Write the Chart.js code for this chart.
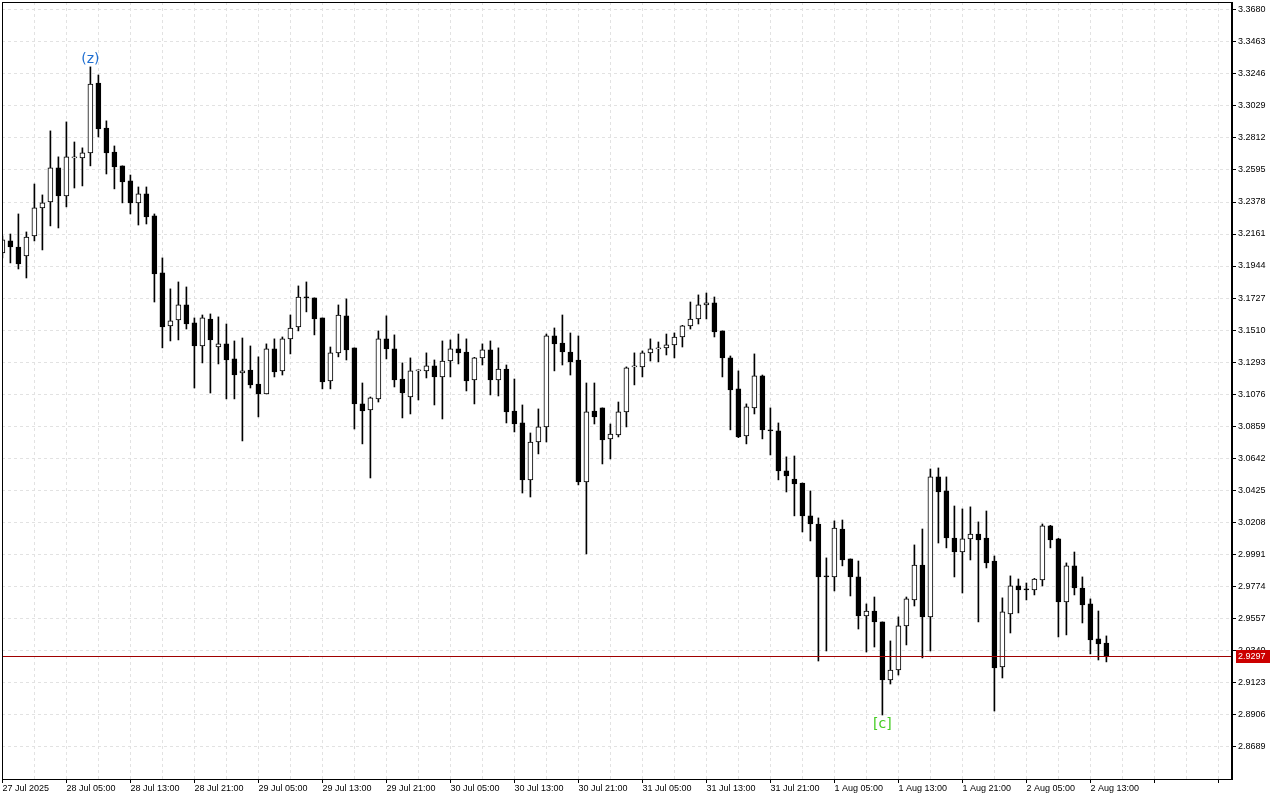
<!DOCTYPE html>
<html>
<head>
<meta charset="utf-8">
<script src="https://cdn.jsdelivr.net/npm/chart.js@4.4.1/dist/chart.umd.min.js"></script>
<style>
  html, body { margin: 0; padding: 0; background: #fff; }
  #wrap { width: 1280px; height: 800px; }
</style>
</head>
<body>
<div id="wrap"><canvas id="priceChart" width="1280" height="800"></canvas></div>
<script>
// hourly candles, first one is 27 Jul 2025 21:00
const opens = [
  3.2033, 3.2114, 3.2073, 3.2012, 3.2148, 3.2338, 3.2378, 3.2609, 3.2419, 3.2677,
  3.2677, 3.2711, 3.3185, 3.2880, 3.2717, 3.2623, 3.2521, 3.2372, 3.2433, 3.2284,
  3.1897, 3.1538, 3.1578, 3.1680, 3.1558, 3.1402, 3.1585, 3.1395, 3.1416, 3.1314,
  3.1219, 3.1239, 3.1144, 3.1077, 3.1382, 3.1233, 3.1450, 3.1531, 3.1734, 3.1728,
  3.1592, 3.1165, 3.1355, 3.1606, 3.1389, 3.1009, 3.0968, 3.1043, 3.1450, 3.1382,
  3.1178, 3.1056, 3.1233, 3.1233, 3.1267, 3.1192, 3.1300, 3.1382, 3.1361, 3.1172,
  3.1321, 3.1375, 3.1172, 3.1246, 3.0961, 3.0880, 3.0494, 3.0751, 3.0853, 3.1470,
  3.1422, 3.1361, 3.1307, 3.0480, 3.0961, 3.0982, 3.0772, 3.0799, 3.0955, 3.1260,
  3.1260, 3.1355, 3.1382, 3.1389, 3.1409, 3.1463, 3.1538, 3.1585, 3.1680, 3.1694,
  3.1504, 3.1321, 3.1111, 3.0792, 3.0982, 3.1199, 3.0833, 3.0826, 3.0555, 3.0500,
  3.0473, 3.0250, 3.0195, 2.9843, 2.9836, 3.0161, 2.9958, 2.9836, 2.9572, 2.9605,
  2.9531, 2.9138, 2.9205, 2.9504, 2.9680, 2.9917, 2.9565, 3.0514, 3.0419, 3.0100,
  3.0005, 3.0094, 3.0127, 3.0100, 2.9944, 2.9226, 2.9585, 2.9775, 2.9755, 2.9748,
  2.9816, 3.0182, 3.0094, 2.9666, 2.9911, 2.9761, 2.9653, 2.9416, 2.9388
];
const highs = [
  3.2148, 3.2161, 3.2297, 3.2175, 3.2500, 3.2426, 3.2860, 3.2684, 3.2921, 3.2785,
  3.2745, 3.3294, 3.3239, 3.2928, 3.2758, 3.2623, 3.2561, 3.2480, 3.2480, 3.2297,
  3.1999, 3.1789, 3.1836, 3.1802, 3.1592, 3.1612, 3.1619, 3.1599, 3.1551, 3.1436,
  3.1456, 3.1402, 3.1328, 3.1416, 3.1450, 3.1463, 3.1612, 3.1809, 3.1836, 3.1728,
  3.1592, 3.1395, 3.1680, 3.1721, 3.1389, 3.1151, 3.1056, 3.1504, 3.1606, 3.1477,
  3.1287, 3.1321, 3.1240, 3.1355, 3.1307, 3.1436, 3.1443, 3.1483, 3.1450, 3.1325,
  3.1416, 3.1436, 3.1389, 3.1273, 3.1178, 3.1002, 3.0812, 3.0975, 3.1483, 3.1524,
  3.1612, 3.1490, 3.1470, 3.1151, 3.1151, 3.0982, 3.0873, 3.1022, 3.1260, 3.1355,
  3.1368, 3.1450, 3.1429, 3.1483, 3.1490, 3.1542, 3.1700, 3.1748, 3.1761, 3.1734,
  3.1504, 3.1334, 3.1233, 3.1009, 3.1348, 3.1205, 3.0982, 3.0880, 3.0650, 3.0656,
  3.0473, 3.0419, 3.0236, 2.9965, 3.0216, 3.0222, 2.9958, 2.9944, 2.9653, 2.9700,
  2.9531, 2.9402, 2.9565, 2.9700, 3.0053, 3.0161, 3.0568, 3.0575, 3.0514, 3.0317,
  3.0297, 3.0311, 3.0209, 3.0283, 2.9978, 2.9694, 2.9843, 2.9822, 2.9795, 2.9826,
  3.0195, 3.0186, 3.0098, 2.9931, 3.0005, 2.9836, 2.9687, 2.9605, 2.9436
];
const lows = [
  3.1999, 3.1965, 3.1924, 3.1863, 3.2114, 3.2053, 3.2216, 3.2202, 3.2345, 3.2473,
  3.2487, 3.2623, 3.2819, 3.2568, 3.2467, 3.2372, 3.2297, 3.2222, 3.2229, 3.1700,
  3.1389, 3.1436, 3.1443, 3.1517, 3.1117, 3.1287, 3.1083, 3.1280, 3.1043, 3.1043,
  3.0758, 3.1117, 3.0921, 3.1077, 3.1192, 3.1205, 3.1348, 3.1504, 3.1633, 3.1477,
  3.1111, 3.1111, 3.1328, 3.1307, 3.0839, 3.0738, 3.0507, 3.1022, 3.1314, 3.1124,
  3.0914, 3.0941, 3.1036, 3.1185, 3.1002, 3.0907, 3.1192, 3.1280, 3.1097, 3.1009,
  3.1273, 3.1070, 3.1063, 3.0880, 3.0819, 3.0405, 3.0378, 3.0670, 3.0751, 3.1233,
  3.1273, 3.1205, 3.0460, 2.9992, 3.0873, 3.0602, 3.0636, 3.0785, 3.0853, 3.1138,
  3.1192, 3.1300, 3.1294, 3.1341, 3.1321, 3.1395, 3.1517, 3.1551, 3.1585, 3.1463,
  3.1192, 3.0833, 3.0780, 3.0738, 3.0941, 3.0772, 3.0663, 3.0494, 3.0412, 3.0250,
  3.0141, 3.0080, 2.9266, 2.9334, 2.9741, 2.9911, 2.9707, 2.9483, 2.9327, 2.9361,
  2.8900, 2.9110, 2.9171, 2.9375, 2.9639, 2.9287, 2.9334, 3.0066, 3.0033, 2.9836,
  2.9727, 2.9951, 2.9531, 2.9897, 2.8927, 2.9151, 2.9456, 2.9592, 2.9680, 2.9714,
  2.9775, 3.0033, 2.9429, 2.9443, 2.9714, 2.9524, 2.9314, 2.9273, 2.9260
];
const closes = [
  3.2121, 3.2073, 3.1958, 3.2141, 3.2338, 3.2372, 3.2609, 3.2419, 3.2684, 3.2684,
  3.2711, 3.3178, 3.2873, 3.2711, 3.2616, 3.2514, 3.2372, 3.2433, 3.2277, 3.1890,
  3.1531, 3.1572, 3.1680, 3.1551, 3.1402, 3.1592, 3.1443, 3.1416, 3.1307, 3.1205,
  3.1233, 3.1138, 3.1077, 3.1382, 3.1226, 3.1450, 3.1524, 3.1734, 3.1728, 3.1585,
  3.1158, 3.1355, 3.1612, 3.1375, 3.1009, 3.0961, 3.1050, 3.1450, 3.1382, 3.1172,
  3.1083, 3.1233, 3.1236, 3.1267, 3.1192, 3.1300, 3.1382, 3.1355, 3.1165, 3.1321,
  3.1375, 3.1172, 3.1246, 3.0955, 3.0873, 3.0494, 3.0751, 3.0853, 3.1470, 3.1416,
  3.1361, 3.1294, 3.0480, 3.0955, 3.0921, 3.0765, 3.0805, 3.0955, 3.1253, 3.1267,
  3.1355, 3.1382, 3.1389, 3.1409, 3.1463, 3.1538, 3.1585, 3.1680, 3.1694, 3.1497,
  3.1321, 3.1104, 3.0785, 3.0989, 3.1199, 3.0833, 3.0826, 3.0555, 3.0521, 3.0466,
  3.0250, 3.0195, 2.9836, 2.9836, 3.0168, 2.9951, 2.9836, 2.9572, 2.9605, 2.9531,
  2.9138, 2.9205, 2.9504, 2.9687, 2.9917, 2.9565, 3.0514, 3.0412, 3.0100, 3.0005,
  3.0094, 3.0127, 3.0087, 2.9931, 2.9219, 2.9599, 2.9775, 2.9748, 2.9748, 2.9822,
  3.0182, 3.0087, 2.9666, 2.9911, 2.9761, 2.9646, 2.9409, 2.9382, 2.9297
];

// one label every 8 candles
const timeLabels = [
  '27 Jul 2025', '28 Jul 05:00', '28 Jul 13:00', '28 Jul 21:00', '29 Jul 05:00',
  '29 Jul 13:00', '29 Jul 21:00', '30 Jul 05:00', '30 Jul 13:00', '30 Jul 21:00',
  '31 Jul 05:00', '31 Jul 13:00', '31 Jul 21:00', '1 Aug 05:00', '1 Aug 13:00',
  '1 Aug 21:00', '2 Aug 05:00', '2 Aug 13:00'
];
const priceTicks = [
  3.3680, 3.3463, 3.3246, 3.3029, 3.2812, 3.2595, 3.2378, 3.2161, 3.1944, 3.1727,
  3.1510, 3.1293, 3.1076, 3.0859, 3.0642, 3.0425, 3.0208, 2.9991, 2.9774, 2.9557,
  2.9340, 2.9123, 2.8906, 2.8689
];
const waveLabels = [
  { index: 11, text: '(z)', at: 'high', color: '#1f6fd1' },
  { index: 110, text: '[c]', at: 'low', color: '#44cc22' }
];

const lastPrice = closes[closes.length - 1];
const wickData = highs.map((h, i) => ({ x: i, y: [lows[i], h] }));
const bodyData = opens.map((o, i) => ({ x: i, y: [o, closes[i]] }));
const bodyColors = opens.map((o, i) => closes[i] > o ? '#ffffff' : '#000000');

const frameAndLabels = {
  id: 'frameAndLabels',
  afterDatasetsDraw(chart) {
    const { ctx, chartArea: a, scales } = chart;
    ctx.save();
    // wave labels
    ctx.textAlign = 'center';
    ctx.font = '14px "DejaVu Sans"';
    waveLabels.forEach(w => {
      const x = scales.x.getPixelForValue(w.index);
      ctx.fillStyle = w.color;
      if (w.at === 'high') {
        ctx.textBaseline = 'bottom';
        ctx.fillText(w.text, x, scales.y.getPixelForValue(highs[w.index]) - 1);
      } else {
        ctx.textBaseline = 'top';
        ctx.fillText(w.text, x, scales.y.getPixelForValue(lows[w.index]) + 2);
      }
    });
    // last price line
    const py = Math.round(scales.y.getPixelForValue(lastPrice)) + 0.5;
    ctx.strokeStyle = '#a00000';
    ctx.lineWidth = 1;
    ctx.beginPath();
    ctx.moveTo(a.left, py);
    ctx.lineTo(a.right, py);
    ctx.stroke();
    // frame
    ctx.strokeStyle = '#000';
    ctx.strokeRect(a.left + 0.5, a.top + 0.5, a.right - a.left - 1, a.bottom - a.top);
    ctx.lineWidth = 2;
    ctx.beginPath();
    ctx.moveTo(a.right, a.top);
    ctx.lineTo(a.right, a.bottom + 1);
    ctx.stroke();
    // price tag
    ctx.fillStyle = '#cc0000';
    ctx.fillRect(a.right + 4, py - 6.5, 34, 13);
    ctx.fillStyle = '#fff';
    ctx.font = '9px "Liberation Sans"';
    ctx.textAlign = 'left';
    ctx.textBaseline = 'middle';
    ctx.fillText(lastPrice.toFixed(4), a.right + 6, py);
    ctx.restore();
  }
};

new Chart(document.getElementById('priceChart'), {
  type: 'bar',
  data: {
    datasets: [{
      label: 'bodies',
      data: bodyData,
      backgroundColor: bodyColors,
      borderColor: '#000',
      borderWidth: 1,
      borderSkipped: false,
      barThickness: 5,
      minBarLength: 1,
      grouped: false,
      order: 0
    }, {
      label: 'wicks',
      data: wickData,
      backgroundColor: '#000',
      barThickness: 1,
      grouped: false,
      order: 1
    }]
  },
  options: {
    responsive: false,
    animation: false,
    devicePixelRatio: 1,
    layout: { padding: { left: 2, top: 2, right: 0, bottom: 0 } },
    plugins: { legend: { display: false }, tooltip: { enabled: false } },
    scales: {
      x: {
        type: 'linear',
        offset: false,
        min: -0.05,
        max: 153.7,
        afterBuildTicks(scale) {
          const t = [];
          for (let v = 0; v <= 152; v += 4) t.push({ value: v });
          scale.ticks = t;
        },
        afterFit(scale) { scale.height = 21; },
        border: { display: false, dash: [3, 3] },
        grid: {
          offset: false,
          color: '#e2e2e2',
          tickColor: c => (c.tick && c.tick.value % 8 === 0) ? '#000' : 'rgba(0,0,0,0)',
          tickLength: 4,
          tickBorderDash: [],
          drawTicks: true
        },
        ticks: {
          autoSkip: false,
          maxRotation: 0,
          align: 'start',
          padding: 0,
          color: '#000',
          font: { family: 'Liberation Sans', size: 9 },
          callback: v => v % 8 === 0 ? (timeLabels[v / 8] || '') : ''
        }
      },
      y: {
        position: 'right',
        min: 2.8466,
        max: 3.3734,
        afterBuildTicks(scale) { scale.ticks = priceTicks.map(v => ({ value: v })); },
        afterFit(scale) {
          scale.width = 48;
          scale.paddingTop = 0;
          scale.paddingBottom = 0;
        },
        border: { display: false, dash: [3, 3] },
        grid: {
          color: '#e2e2e2',
          tickColor: '#000',
          tickLength: 4,
          tickBorderDash: []
        },
        ticks: {
          padding: 2,
          color: '#000',
          font: { family: 'Liberation Sans', size: 9 },
          callback: v => v.toFixed(4)
        }
      }
    }
  },
  plugins: [frameAndLabels]
});
</script>
</body>
</html>
